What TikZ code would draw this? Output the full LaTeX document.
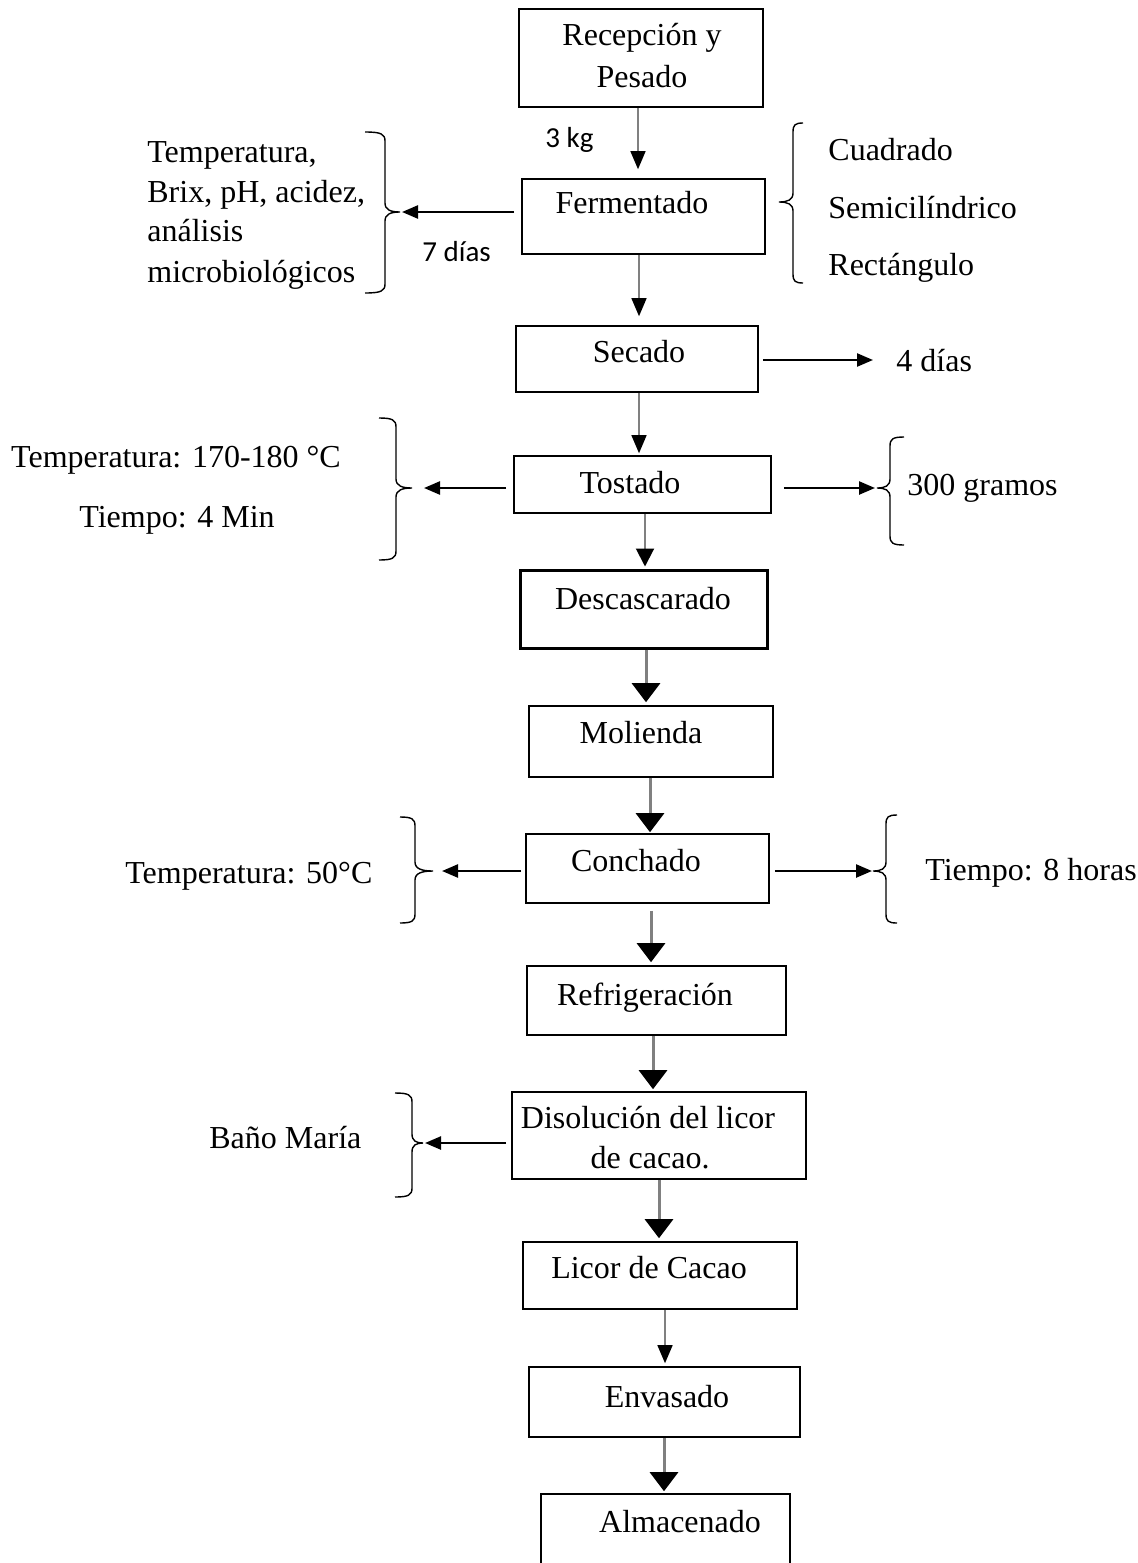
\documentclass[tikz,border=0pt]{standalone}
\usepackage{fontspec}
\setmainfont{Liberation Serif}
\newfontfamily\calfont{Carlito}
\usetikzlibrary{arrows.meta,fit}
\definecolor{arrgray}{RGB}{128,128,128}
% brace: xv, y1, y2, cusp x, cusp y, hook x
\newcommand{\Brc}[6]{%
  \draw[brc] (#6,#2) .. controls ({#6+0.8*(#1-#6)},#2) and (#1,{#2+2}) .. (#1,{#2+9})
    -- (#1,{#5-9}) .. controls (#1,{#5-2}) and ({#1+0.4*(#4-#1)},#5) .. (#4,#5)
    .. controls ({#1+0.4*(#4-#1)},#5) and (#1,{#5+2}) .. (#1,{#5+9})
    -- (#1,{#3-9}) .. controls (#1,{#3-2}) and ({#6+0.8*(#1-#6)},#3) .. (#6,#3);}
\begin{document}
\begin{tikzpicture}[x=0.5pt,y=-0.5pt,
  box/.style={draw, line width=0.8pt, inner sep=0pt},
  thickbox/.style={draw, line width=1.5pt, inner sep=0pt},
  txt/.style={inner sep=0pt, font=\fontsize{16}{20}\selectfont},
  cal/.style={inner sep=0pt, font=\calfont\fontsize{14.5}{18}\selectfont},
  thinarr/.style={draw=arrgray, line width=0.7pt, -{Triangle[length=9pt,width=7.5pt,color=black]}},
  midarr/.style={draw=arrgray, line width=1pt, -{Triangle[length=9pt,width=9pt,color=black]}},
  fatarr/.style={draw=arrgray, line width=1.5pt, -{Triangle[length=9.5pt,width=14pt,color=black]}},
  harr/.style={draw=black, line width=1.2pt, -{Triangle[length=8pt,width=6.5pt]}},
  brc/.style={draw=black, line width=0.7pt}]
\useasboundingbox (0,0) rectangle (1138,1563);

% boxes
\node[box, fit={(519,9) (763,107)}] (rec) {};
\node[box, fit={(522,179) (765,254)}] (ferm) {};
\node[box, fit={(516,326) (758,392)}] (sec) {};
\node[box, fit={(514,456) (771,513)}] (tos) {};
\node[thickbox, fit={(520,570) (767,648)}] (desc) {};
\node[box, fit={(529,706) (773,777)}] (mol) {};
\node[box, fit={(526,834) (769,903)}] (conch) {};
\node[box, fit={(527,966) (786,1035)}] (ref) {};
\node[box, fit={(512,1092) (806,1179)}] (dis) {};
\node[box, fit={(523,1242) (797,1309)}] (lic) {};
\node[box, fit={(529,1367) (800,1437)}] (env) {};
\node[box, fit={(541,1494) (790,1600)}] (alm) {};

% box texts
\node[txt, anchor=base] (recT1) at (642,45) {Recepción y};
\node[txt, anchor=base] (recT2) at (642,87) {Pesado};
\node[txt, anchor=base] (fermT) at (632,213) {Fermentado};
\node[txt, anchor=base] (secT) at (639,362) {Secado};
\node[txt, anchor=base] (tosT) at (630,493) {Tostado};
\node[txt, anchor=base] (descT) at (643,609) {Descascarado};
\node[txt, anchor=base] (molT) at (641,743) {Molienda};
\node[txt, anchor=base] (conchT) at (636,871) {Conchado};
\node[txt, anchor=base] (refT) at (645,1005) {Refrigeración};
\node[txt, anchor=base] (disT1) at (648,1128) {Disolución del licor};
\node[txt, anchor=base] (disT2) at (650,1168) {de cacao.};
\node[txt, anchor=base] (licT) at (649,1278) {Licor de Cacao};
\node[txt, anchor=base] (envT) at (667,1407) {Envasado};
\node[txt, anchor=base] (almT) at (680,1532) {Almacenado};

% side texts
\node[cal, anchor=base west] (kg) at (545,147) {3 kg};
\node[cal, anchor=base west] (dias7) at (422,261) {7 días};
\node[txt, anchor=base west] (l1) at (147,162) {Temperatura,};
\node[txt, anchor=base west] (l2) at (147,202) {Brix, pH, acidez,};
\node[txt, anchor=base west] (l3) at (147,241) {análisis};
\node[txt, anchor=base west] (l4) at (147,282) {microbiológicos};
\node[txt, anchor=base west] (r1) at (828,160) {Cuadrado};
\node[txt, anchor=base west] (r2) at (828,218) {Semicilíndrico};
\node[txt, anchor=base west] (r3) at (828,275) {Rectángulo};
\node[txt, anchor=base west] (dias4) at (896,371) {4 días};
\node[txt, anchor=base] (tt1) at (176,467) {Temperatura: 170-180 °C};
\node[txt, anchor=base] (tt2) at (177,527) {Tiempo: 4 Min};
\node[txt, anchor=base west] (gr) at (907,495) {300 gramos};
\node[txt, anchor=base west] (t50) at (125,883) {Temperatura: 50°C};
\node[txt, anchor=base west] (h8) at (925,880) {Tiempo: 8 horas};
\node[txt, anchor=base west] (bm) at (209,1148) {Baño María};

% brace cusps
\coordinate (bc1) at (400,212);
\coordinate (bc2) at (779,202);
\coordinate (sec4) at (873,360);
\coordinate (bc3) at (412,488);
\coordinate (bc4) at (877,488);
\coordinate (bc5) at (433,871);
\coordinate (bc6) at (873,871);
\coordinate (bc7) at (423,1143);

% braces
\Brc{385}{132}{293}{400}{212}{365}
\Brc{793}{123}{283}{779}{202}{803}
\Brc{396}{418}{560}{412}{488}{379}
\Brc{890}{437}{545}{877}{488}{904}
\Brc{415}{817}{923}{433}{871}{400}
\Brc{886}{815}{923}{873}{871}{897}
\Brc{412}{1093}{1197}{423}{1143}{395}

% vertical flow
\draw[thinarr, shorten >=4.5pt] (rec.south -| 638,0) -- (ferm.north -| 638,0);
\draw[thinarr, shorten >=4.5pt] (ferm.south -| 639,0) -- (sec.north -| 639,0);
\draw[thinarr, shorten >=1pt] (sec.south -| 639,0) -- (tos.north -| 639,0);
\draw[midarr, shorten >=1pt] (tos.south -| 645,0) -- (desc.north -| 645,0);
\draw[fatarr, shorten >=1.5pt] (desc.south -| 646,0) -- (mol.north -| 646,0);
\draw[fatarr, shorten >=0.5pt] (mol.south -| 650,0) -- (conch.north -| 650,0);
\draw[fatarr, shorten <=3.5pt, shorten >=1.5pt] (conch.south -| 651,0) -- (ref.north -| 651,0);
\draw[fatarr, shorten >=1pt] (ref.south -| 653,0) -- (dis.north -| 653,0);
\draw[fatarr, shorten >=1.5pt] (dis.south -| 659,0) -- (lic.north -| 659,0);
\draw[thinarr, shorten >=1.5pt] (lic.south -| 665,0) -- (env.north -| 665,0);
\draw[fatarr, shorten >=1pt] (env.south -| 664,0) -- (alm.north -| 664,0);

% side arrows
\draw[harr, shorten <=3.5pt, shorten >=1pt] (ferm.west |- bc1) -- (bc1);
\draw[harr, shorten <=2pt] (sec.east |- sec4) -- (sec4);
\draw[harr, shorten <=3.5pt, shorten >=6pt] (tos.west |- bc3) -- (bc3);
\draw[harr, shorten <=6pt, shorten >=1pt] (tos.east |- bc4) -- (bc4);
\draw[harr, shorten <=2pt, shorten >=4.5pt] (conch.west |- bc5) -- (bc5);
\draw[harr, shorten <=2.5pt, shorten >=0.5pt] (conch.east |- bc6) -- (bc6);
\draw[harr, shorten <=2.5pt, shorten >=1pt] (dis.west |- bc7) -- (bc7);
\end{tikzpicture}
\end{document}
